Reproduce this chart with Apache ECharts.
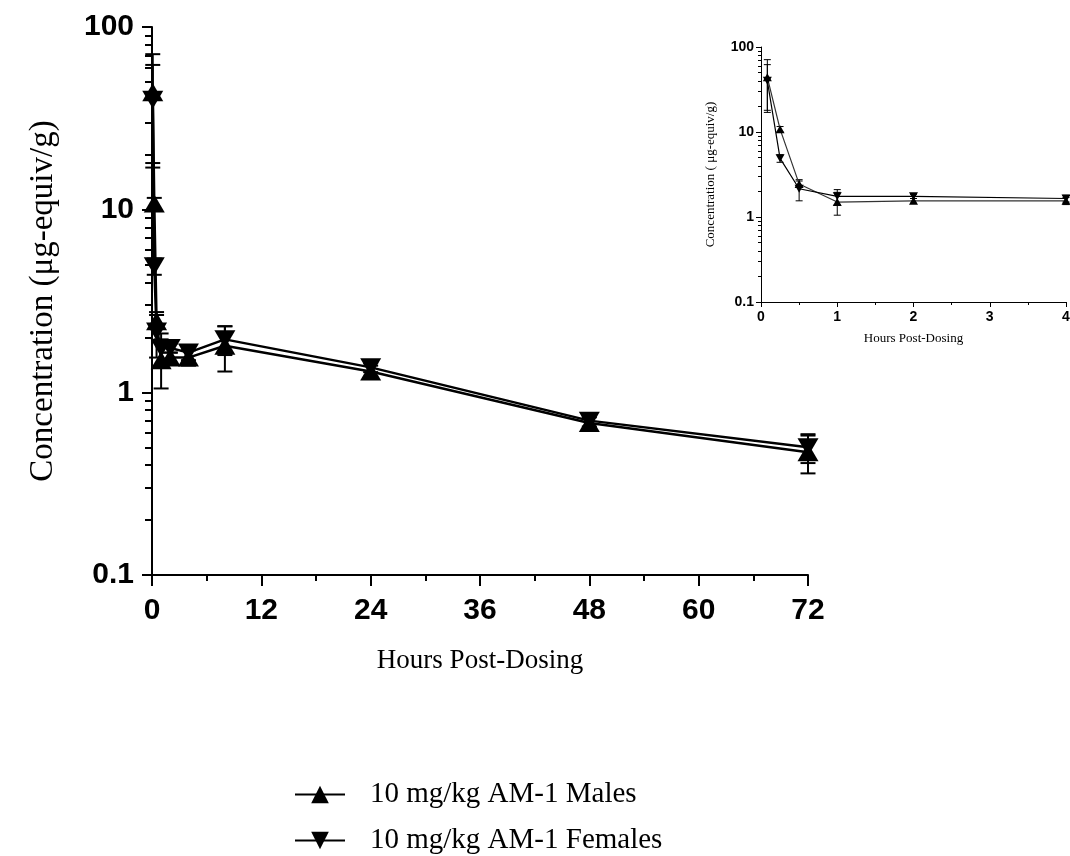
<!DOCTYPE html>
<html>
<head>
<meta charset="utf-8">
<script src="https://cdn.jsdelivr.net/npm/echarts@6/dist/echarts.min.js"></script>
<style>
  html, body { margin: 0; padding: 0; background: #fff; }
  #main { width: 1070px; height: 856px; }
</style>
</head>
<body>
<div id="main"></div>
<script>
// sampling times (h) and mean +/- SD concentrations (ug-equiv/g)
var times = [0.083, 0.25, 0.5, 1, 2, 4, 8, 24, 48, 72];
var maleMean = [44, 10.8, 2.45, 1.5, 1.55, 1.55, 1.8, 1.3, 0.68, 0.47];
var maleSd = [27, 0.8, 0.2, 0.45, 0.1, 0.15, 0.5, 0.1, 0.05, 0.11];
var femaleMean = [40, 4.9, 2.15, 1.75, 1.75, 1.65, 1.95, 1.37, 0.7, 0.5];
var femaleSd = [22, 0.5, 0.6, 0.35, 0.1, 0.15, 0.35, 0.08, 0.05, 0.09];

var seriesNames = ['10 mg/kg AM-1 Males', '10 mg/kg AM-1 Females'];
var mainXTicks = [0, 12, 24, 36, 48, 60, 72];
var insetXTicks = [0, 1, 2, 3, 4];
var yDecades = [0.1, 1, 10, 100];

// minor log ticks 0.2..0.9, 2..9, 20..90
var yMinor = [];
for (var d = 0; d < yDecades.length - 1; d++) {
    for (var k = 2; k <= 9; k++) yMinor.push(+(yDecades[d] * k).toFixed(3));
}

var downTri = 'path://M0,0 L10,0 L5,9 Z';

function pts(mean, maxT) {
    var out = [];
    for (var i = 0; i < times.length; i++) {
        if (times[i] <= maxT) out.push([times[i], mean[i]]);
    }
    return out;
}
function errs(mean, sd, maxT) {
    var out = [];
    for (var i = 0; i < times.length; i++) {
        if (times[i] <= maxT) out.push([times[i], mean[i] - sd[i], mean[i] + sd[i]]);
    }
    return out;
}
function errorBar(capW, lw) {
    return function (params, api) {
        var lo = api.coord([api.value(0), api.value(1)]);
        var hi = api.coord([api.value(0), api.value(2)]);
        var h = capW / 2;
        var st = {stroke: '#000', lineWidth: lw};
        return {
            type: 'group',
            children: [
                {type: 'line', shape: {x1: lo[0], y1: lo[1], x2: hi[0], y2: hi[1]}, style: st},
                {type: 'line', shape: {x1: hi[0] - h, y1: hi[1], x2: hi[0] + h, y2: hi[1]}, style: st},
                {type: 'line', shape: {x1: lo[0] - h, y1: lo[1], x2: lo[0] + h, y2: lo[1]}, style: st}
            ]
        };
    };
}

var bold = 'Liberation Sans';
var serif = 'Liberation Serif';

function legendRow(name, top) {
    return {
        data: [name],
        orient: 'vertical',
        left: 289,
        top: top,
        itemWidth: 50,
        itemHeight: 22,
        textStyle: {fontFamily: serif, fontSize: 29, color: '#000', padding: [0, 0, 0, 20]}
    };
}

var chart = echarts.init(document.getElementById('main'));

var option = {
    animation: false,
    grid: [
        {left: 152, top: 27, width: 656, height: 548, outerBoundsMode: 'none'},
        {left: 761, top: 47, width: 305, height: 255, outerBoundsMode: 'none'}
    ],
    legend: [
        legendRow(seriesNames[0], 775),
        legendRow(seriesNames[1], 821)
    ],
    xAxis: [
        {
            gridIndex: 0, type: 'value',
            min: mainXTicks[0], max: mainXTicks[mainXTicks.length - 1], interval: 12,
            name: 'Hours Post-Dosing', nameLocation: 'middle', nameGap: 72,
            nameTextStyle: {fontFamily: serif, fontSize: 27, color: '#000'},
            axisLine: {lineStyle: {color: '#000', width: 2}},
            axisTick: {length: 11, lineStyle: {width: 2}},
            minorTick: {show: true, splitNumber: 2, length: 6, lineStyle: {color: '#000', width: 2}},
            axisLabel: {fontFamily: bold, fontWeight: 'bold', fontSize: 30, color: '#000', margin: 21},
            splitLine: {show: false}
        },
        {
            gridIndex: 1, type: 'value',
            min: insetXTicks[0], max: insetXTicks[insetXTicks.length - 1], interval: 1,
            name: 'Hours Post-Dosing', nameLocation: 'middle', nameGap: 30,
            nameTextStyle: {fontFamily: serif, fontSize: 13, color: '#000'},
            axisLine: {lineStyle: {color: '#000', width: 1}},
            axisTick: {length: 5},
            minorTick: {show: true, splitNumber: 2, length: 3, lineStyle: {color: '#000'}},
            axisLabel: {fontFamily: bold, fontWeight: 'bold', fontSize: 14, color: '#000', margin: 8},
            splitLine: {show: false}
        }
    ],
    yAxis: [
        {
            gridIndex: 0, type: 'log', logBase: 10, min: 0.1, max: 100, position: 'left',
            name: 'Concentration (\u03bcg-equiv/g)', nameLocation: 'middle', nameGap: 92,
            nameTextStyle: {fontFamily: serif, fontSize: 33, color: '#000'},
            axisLine: {lineStyle: {color: '#000', width: 2}},
            axisTick: {length: 10, lineStyle: {width: 2}, customValues: yDecades},
            axisLabel: {fontFamily: bold, fontWeight: 'bold', fontSize: 30, color: '#000', margin: 18,
                customValues: yDecades},
            splitLine: {show: false}
        },
        {
            gridIndex: 0, type: 'log', logBase: 10, min: 0.1, max: 100, position: 'left', offset: 0,
            axisLine: {show: false},
            axisTick: {length: 7, lineStyle: {color: '#000', width: 2}, customValues: yMinor},
            axisLabel: {show: false},
            splitLine: {show: false}
        },
        {
            gridIndex: 1, type: 'log', logBase: 10, min: 0.1, max: 100, position: 'left',
            name: 'Concentration ( \u03bcg-equiv/g)', nameLocation: 'middle', nameGap: 44,
            nameTextStyle: {fontFamily: serif, fontSize: 13, color: '#000'},
            axisLine: {lineStyle: {color: '#000', width: 1}},
            axisTick: {length: 5, customValues: yDecades},
            axisLabel: {fontFamily: bold, fontWeight: 'bold', fontSize: 14, color: '#000', margin: 7,
                customValues: yDecades},
            splitLine: {show: false}
        },
        {
            gridIndex: 1, type: 'log', logBase: 10, min: 0.1, max: 100, position: 'left', offset: 0,
            axisLine: {show: false},
            axisTick: {length: 3, lineStyle: {color: '#000'}, customValues: yMinor},
            axisLabel: {show: false},
            splitLine: {show: false}
        }
    ],
    series: [
        // main panel
        {
            type: 'custom', xAxisIndex: 0, yAxisIndex: 0, z: 1,
            renderItem: errorBar(15, 2), encode: {x: 0, y: [1, 2]},
            data: errs(maleMean, maleSd, 72)
        },
        {
            type: 'custom', xAxisIndex: 0, yAxisIndex: 0, z: 1,
            renderItem: errorBar(15, 2), encode: {x: 0, y: [1, 2]},
            data: errs(femaleMean, femaleSd, 72)
        },
        {
            name: seriesNames[0], type: 'line', xAxisIndex: 0, yAxisIndex: 0, z: 3,
            symbol: 'triangle', symbolSize: [21, 18],
            itemStyle: {color: '#000'}, lineStyle: {color: '#000', width: 2.5},
            data: pts(maleMean, 72)
        },
        {
            name: seriesNames[1], type: 'line', xAxisIndex: 0, yAxisIndex: 0, z: 3,
            symbol: downTri, symbolSize: [21, 18],
            itemStyle: {color: '#000'}, lineStyle: {color: '#000', width: 2.5},
            data: pts(femaleMean, 72)
        },
        // inset (first 4 h)
        {
            type: 'custom', xAxisIndex: 1, yAxisIndex: 2, z: 1,
            renderItem: errorBar(7, 1), encode: {x: 0, y: [1, 2]},
            data: errs(maleMean, maleSd, 4)
        },
        {
            type: 'custom', xAxisIndex: 1, yAxisIndex: 2, z: 1,
            renderItem: errorBar(7, 1), encode: {x: 0, y: [1, 2]},
            data: errs(femaleMean, femaleSd, 4)
        },
        {
            name: seriesNames[0], type: 'line', xAxisIndex: 1, yAxisIndex: 2, z: 3,
            symbol: 'triangle', symbolSize: [9, 8],
            itemStyle: {color: '#000'}, lineStyle: {color: '#333', width: 1.2},
            data: pts(maleMean, 4)
        },
        {
            name: seriesNames[1], type: 'line', xAxisIndex: 1, yAxisIndex: 2, z: 3,
            symbol: downTri, symbolSize: [9, 8],
            itemStyle: {color: '#000'}, lineStyle: {color: '#000', width: 1.2},
            data: pts(femaleMean, 4)
        }
    ]
};
chart.setOption(option);
</script>
</body>
</html>
